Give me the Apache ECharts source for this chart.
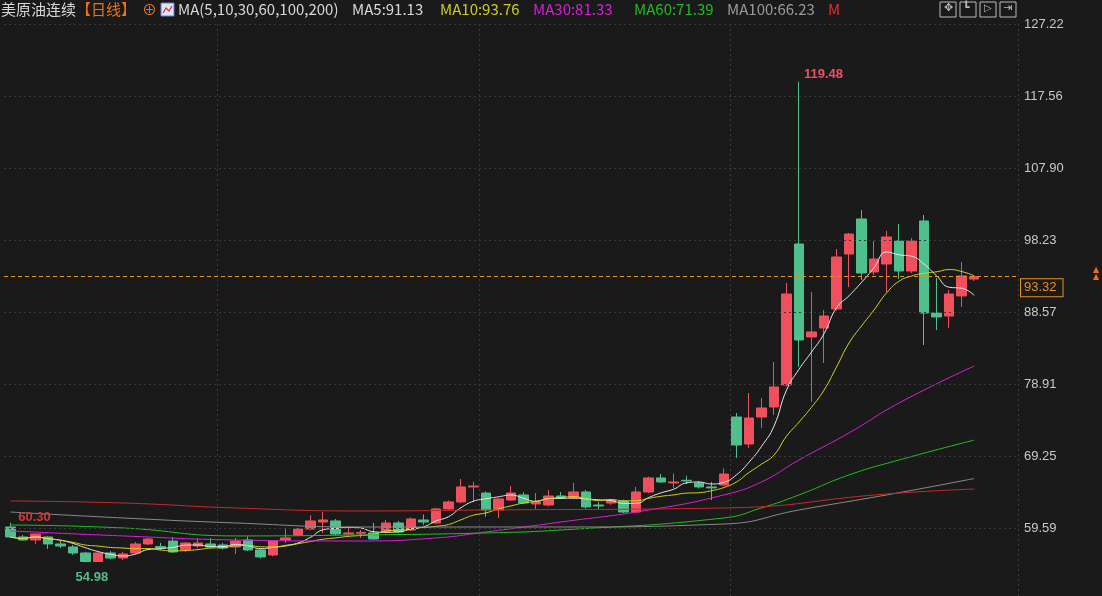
<!DOCTYPE html>
<html>
<head>
<meta charset="utf-8">
<script src="https://cdn.jsdelivr.net/npm/echarts@6/dist/echarts.min.js"></script>
<style>
  html, body { margin: 0; padding: 0; background: #1a1a1a; }
  #kline { width: 1102px; height: 596px; }
</style>
</head>
<body>
<div id="kline"></div>
<script>
var chartDom = document.getElementById('kline');
var myChart = echarts.init(chartDom);

// 每根K线: [开, 收, 低, 高]
var candles = [
  [59.73, 58.39, 58.39, 60.30], [58.39, 57.99, 57.85, 58.66], [57.99, 58.79, 57.45, 58.79], [58.39, 57.45, 56.78, 58.50],
  [57.45, 57.18, 56.91, 57.85], [57.05, 56.24, 55.98, 57.32], [56.24, 55.10, 54.98, 56.40], [55.10, 56.24, 55.10, 56.30],
  [56.24, 55.57, 55.40, 56.50], [55.57, 56.11, 55.30, 56.40], [56.24, 57.45, 56.10, 57.72], [57.45, 58.12, 57.30, 58.26],
  [57.10, 56.90, 56.60, 57.60], [57.85, 56.38, 56.24, 58.39], [56.65, 57.58, 56.40, 57.70], [57.18, 57.58, 56.91, 58.26],
  [57.45, 57.05, 56.91, 58.26], [57.32, 56.91, 56.70, 57.60], [57.05, 57.85, 56.11, 58.26], [57.99, 56.65, 56.50, 58.50],
  [56.65, 55.71, 55.50, 56.80], [55.98, 57.85, 55.80, 57.90], [57.99, 58.26, 57.58, 59.46], [58.66, 59.46, 58.50, 59.60],
  [59.46, 60.54, 59.30, 61.30], [60.40, 60.67, 58.93, 61.74], [60.54, 58.79, 58.60, 60.80], [58.79, 58.93, 58.70, 59.73],
  [58.90, 59.00, 58.26, 59.33], [58.93, 58.12, 58.00, 60.27], [59.06, 60.27, 58.90, 60.67], [60.27, 59.06, 58.90, 60.54],
  [59.33, 60.81, 59.20, 61.00], [60.67, 60.40, 60.00, 61.40], [60.27, 62.15, 60.10, 62.30], [62.15, 63.09, 62.00, 63.30],
  [63.09, 65.10, 62.90, 66.17], [65.10, 65.23, 63.09, 65.77], [64.29, 62.01, 61.10, 64.50], [62.01, 63.49, 60.94, 63.60],
  [63.35, 64.29, 63.20, 65.23], [64.03, 62.95, 62.80, 64.40], [62.82, 63.09, 62.15, 64.29], [62.68, 63.89, 62.50, 64.70],
  [63.89, 63.62, 63.50, 64.43], [63.62, 64.43, 63.50, 65.64], [64.43, 62.42, 62.20, 64.70], [62.68, 62.55, 62.15, 63.09],
  [62.95, 63.35, 62.70, 63.50], [63.22, 61.74, 61.60, 63.40], [61.74, 64.43, 61.60, 65.10], [64.43, 66.31, 64.30, 66.50],
  [66.31, 65.77, 65.64, 66.84], [65.64, 65.77, 64.97, 66.90], [66.00, 65.90, 65.50, 66.60], [65.64, 65.10, 64.90, 65.90],
  [65.10, 64.97, 63.35, 65.77], [65.37, 66.84, 65.20, 67.60], [74.49, 70.73, 68.99, 75.03], [70.87, 74.36, 70.33, 77.71],
  [74.49, 75.70, 73.02, 77.04], [75.83, 78.52, 74.76, 81.87], [78.79, 90.99, 78.60, 92.47], [97.70, 84.82, 81.20, 119.48],
  [85.23, 85.90, 76.50, 91.26], [86.43, 88.04, 81.74, 88.85], [88.98, 95.96, 88.80, 97.03], [96.36, 99.04, 91.93, 99.18],
  [101.06, 93.81, 92.87, 102.26], [93.95, 95.69, 93.54, 98.10], [95.02, 98.64, 91.26, 99.45], [98.10, 94.08, 93.00, 100.39],
  [94.08, 98.10, 93.80, 98.51], [100.79, 88.44, 84.15, 101.59], [88.44, 87.91, 86.16, 93.14], [88.04, 90.99, 86.43, 91.53],
  [90.73, 93.41, 89.25, 95.29], [93.00, 93.32, 92.74, 93.50]
];

// 长周期均线读图取点 (其余为空, 连线)
var ma30Pts = {0: 59.2, 9: 58.53, 18: 57.99, 28: 57.85, 34: 58.26, 38: 59.06, 44: 60.40, 51: 62.01, 57: 64.03, 60: 65.77, 63: 68.72, 67: 72.35, 71: 76.37, 77: 81.33};
var ma60Pts = {0: 60.00, 9: 59.60, 18: 58.53, 28: 58.66, 38: 58.93, 44: 59.33, 57: 60.94, 60: 62.28, 63: 64.03, 67: 66.71, 71: 68.72, 77: 71.39};
var ma100Pts = {0: 61.74, 9: 60.94, 18: 60.27, 28: 59.73, 38: 59.73, 44: 59.73, 57: 60.13, 63: 62.01, 70: 64.03, 77: 66.23};
var ma200Pts = {0: 63.22, 9: 62.95, 18: 62.28, 28: 61.88, 38: 62.01, 57: 62.28, 70: 64.16, 77: 64.83};

var yTicks = [59.59, 69.25, 78.91, 88.57, 98.23, 107.90, 117.56, 127.22];
var lastPrice = 93.32;

var slots = 81;
var categories = [];
for (var i = 0; i < slots; i++) categories.push(i);

function calcMA(n) {
  var out = [];
  for (var i = 0; i < candles.length; i++) {
    var s = 0, c = 0;
    for (var j = Math.max(0, i - n + 1); j <= i; j++) { s += candles[j][1]; c++; }
    out.push(+(s / c).toFixed(2));
  }
  return out;
}
function fromPts(p) {
  var out = [];
  for (var i = 0; i < candles.length; i++) out.push(p[i] !== undefined ? p[i] : null);
  return out;
}
function maLine(name, data, color) {
  return {
    name: name, type: 'line', data: data, symbol: 'none', smooth: true,
    connectNulls: true, silent: true,
    lineStyle: { color: color, width: 1 }
  };
}
function txt(x, s, color) {
  return { type: 'text', x: x, y: 2, style: { text: s, fill: color, font: '15px "Noto Sans CJK SC"' } };
}

var up = '#f0505e', down = '#4fbf8c';

var gridLines = yTicks.map(function (v) { return { yAxis: v }; });

option = {
  backgroundColor: '#1a1a1a',
  animation: false,
  graphic: [
    txt(1, '美原油连续', '#d8d8d8'),
    txt(76, '【日线】', '#e8731c'),
    txt(142, '⊕', '#e8731c'),
    { type: 'rect', shape: { x: 161, y: 3, width: 13, height: 13 }, style: { fill: '#dde6ff', stroke: '#6a7ad0' } },
    { type: 'polyline', shape: { points: [[163, 13], [166, 8], [169, 11], [172, 6]] }, style: { stroke: '#e03030', lineWidth: 1.2, fill: 'none' } },
    txt(178, 'MA(5,10,30,60,100,200)', '#d8d8d8'),
    txt(352, 'MA5:91.13', '#d8d8d8'),
    txt(440, 'MA10:93.76', '#cccc22'),
    txt(533, 'MA30:81.33', '#d81fd8'),
    txt(634, 'MA60:71.39', '#22bb22'),
    txt(727, 'MA100:66.23', '#9a9a9a'),
    txt(828, 'M', '#e03030'),
    { type: 'rect', shape: { x: 940, y: 2, width: 16, height: 15 }, style: { fill: 'none', stroke: '#bbb', lineWidth: 1 } },
    { type: 'rect', shape: { x: 960, y: 2, width: 16, height: 15 }, style: { fill: 'none', stroke: '#bbb', lineWidth: 1 } },
    { type: 'rect', shape: { x: 980, y: 2, width: 16, height: 15 }, style: { fill: 'none', stroke: '#bbb', lineWidth: 1 } },
    { type: 'rect', shape: { x: 1000, y: 2, width: 16, height: 15 }, style: { fill: 'none', stroke: '#bbb', lineWidth: 1 } },
    { type: 'text', x: 944, y: 3, style: { text: '✥', fill: '#bbb', font: '11px DejaVu Sans' } },
    { type: 'text', x: 963, y: 3, style: { text: '┗', fill: '#bbb', font: '11px DejaVu Sans' } },
    { type: 'text', x: 984, y: 3, style: { text: '▷', fill: '#bbb', font: '10px DejaVu Sans' } },
    { type: 'text', x: 1003, y: 3, style: { text: '⇥', fill: '#bbb', font: '11px DejaVu Sans' } },
    { type: 'text', x: 1093, y: 266, style: { text: '▲', fill: '#e8731c', font: '8px DejaVu Sans' } },
    { type: 'text', x: 1093, y: 273, style: { text: '▲', fill: '#e8731c', font: '8px DejaVu Sans' } }
  ],
  grid: { left: 4, right: 84, top: 24, bottom: 0 },
  xAxis: {
    type: 'category',
    data: categories,
    axisLine: { show: false },
    axisTick: { show: false },
    axisLabel: { show: false },
    splitLine: {
      show: true,
      interval: function (idx) { return idx === 17 || idx === 38 || idx === 58; },
      lineStyle: { color: '#3a3a3a', type: [2, 3] }
    }
  },
  yAxis: {
    type: 'value',
    position: 'right',
    min: 50.47,
    max: 127.22,
    axisLine: { show: false },
    axisTick: { show: false },
    axisLabel: {
      customValues: yTicks,
      color: '#c8c8c8',
      fontSize: 13,
      fontFamily: 'Liberation Sans',
      margin: 6,
      formatter: function (v) { return v.toFixed(2); }
    },
    splitLine: { show: false }
  },
  series: [
    {
      type: 'candlestick',
      data: candles,
      barWidth: 10,
      itemStyle: { color: up, color0: down, borderColor: up, borderColor0: down, borderWidth: 1 },
      markPoint: {
        symbol: 'circle', symbolSize: 0,
        data: [
          { coord: [63, 119.48], value: '119.48', label: { color: '#f0505e', fontWeight: 'bold', position: 'right', offset: [0, -7] } },
          { coord: [7, 54.98], value: '54.98', label: { color: '#4fbf8c', fontWeight: 'bold', position: 'bottom', offset: [-6, 4] } },
          { coord: [2, 61.0], value: '60.30', label: { color: '#d03a3a', fontWeight: 'bold', position: 'right', offset: [-22, 0] } }
        ],
        label: { fontSize: 13, fontFamily: 'Liberation Sans', formatter: '{c}' }
      },
      markLine: {
        symbol: 'none',
        silent: true,
        data: [{ yAxis: lastPrice }],
        lineStyle: { color: '#e8901c', type: [4, 3], width: 1 },
        label: {
          position: 'end',
          formatter: '93.32',
          color: '#e8901c',
          fontSize: 13,
          fontFamily: 'Liberation Sans',
          backgroundColor: '#1a1a1a',
          borderColor: '#e8901c',
          borderWidth: 1,
          padding: [2, 6, 2, 3],
          offset: [-2, 11]
        }
      }
    },
    {
      type: 'line', data: [], silent: true, z: 0,
      markLine: {
        symbol: 'none', silent: true, data: gridLines,
        lineStyle: { color: '#3a3a3a', type: [2, 3], width: 1 },
        label: { show: false }
      }
    },
    maLine('MA5', calcMA(5), '#e8e8e8'),
    maLine('MA10', calcMA(10), '#d6d61c'),
    maLine('MA30', fromPts(ma30Pts), '#d81fd8'),
    maLine('MA60', fromPts(ma60Pts), '#1fc01f'),
    maLine('MA100', fromPts(ma100Pts), '#8a8a8a'),
    maLine('MA200', fromPts(ma200Pts), '#c82828')
  ]
};

if (option && typeof option === "object") {
  myChart.setOption(option, true);
}
</script>
</body>
</html>
